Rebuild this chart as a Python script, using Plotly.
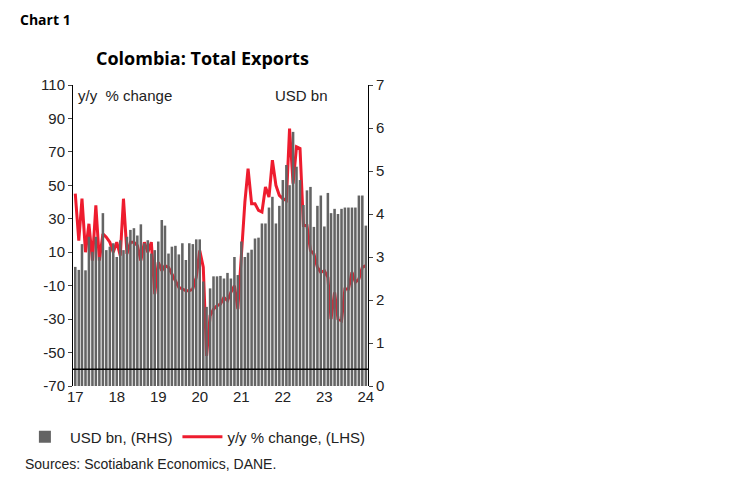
import plotly.graph_objects as go
import pandas as pd

months = pd.date_range("2017-01-01", "2024-01-01", freq="MS")
usd_bn = [2.77,2.70,3.30,2.69,3.47,3.12,3.47,3.00,4.02,3.16,3.24,3.32,
          3.00,3.39,3.16,3.47,3.63,3.67,3.50,3.76,3.32,3.39,3.08,3.16,
          3.36,3.86,3.73,3.08,3.24,3.26,3.06,3.32,2.93,3.32,3.30,3.41,
          3.41,2.43,1.84,2.27,2.55,2.55,2.56,2.50,2.63,2.50,3.00,2.58,
          3.36,3.00,3.10,3.17,3.43,3.45,3.78,3.78,4.15,4.40,3.78,4.19,
          4.79,5.14,4.67,5.91,5.10,4.79,4.21,4.55,4.63,3.70,4.19,4.43,
          3.71,4.49,4.02,4.12,4.00,4.12,4.15,4.15,4.15,4.15,4.43,4.43,
          3.73]
yoy = [45,17,42,10,27,5,38,5,21,19,16,10,
       16,8,42,9,16,16,14,5,16,10,16,-15,
       4,-1,2,1,-3,-7,-11,-12,-13,-13,-12,-5,
       11,1,-52,-28,-24,-22,-21,-17,-19,-14,-10,-24,
       10,40,60,39,39,35,34,49,43,65,50,44,
       42,41,84,51,73,72,26,26,11,9,1,-2,
       -1,-5,-30,-14,-30,-31,-12,-12,-2,-8,-6,1,
       2]
year_ticks = ["17","18","19","20","21","22","23","24"]
tick_dates = [f"20{y}-01-01" for y in year_ticks]
left_ticks = list(range(-70, 111, 20))

fig = go.Figure()
fig.add_trace(go.Bar(x=months, y=usd_bn, yaxis="y2", name="USD bn, (RHS)",
                     marker=dict(color="#646464", line=dict(width=0))))
fig.add_trace(go.Scatter(x=months, y=yoy, mode="lines", name="y/y % change, (LHS)",
                         line=dict(color="#ee1c2e", width=3)))
fig.add_shape(type="line", xref="paper", x0=0, x1=1, yref="y", y0=-60, y1=-60,
              line=dict(color="black", width=1.5))
fig.update_layout(
    width=740, height=475, margin=dict(l=57, r=380, t=77, b=97),
    plot_bgcolor="white", paper_bgcolor="white", bargap=0.2,
    font=dict(family="Liberation Sans, Arial", size=15, color="#222"),
    xaxis=dict(range=["2016-12-12", "2024-01-20"], tickvals=tick_dates, ticktext=year_ticks,
               showgrid=False, showline=False, ticks="", tickfont=dict(size=15), automargin=False),
    yaxis=dict(range=[-70, 110], tickvals=left_ticks, ticktext=[str(v) for v in left_ticks],
               showgrid=False, automargin=False,
               showline=True, linecolor="black", ticks="outside", ticklen=4, zeroline=False),
    yaxis2=dict(range=[0, 7], dtick=1, overlaying="y", side="right", showgrid=False, automargin=False,
                showline=True, linecolor="black", ticks="outside", ticklen=4, zeroline=False),
    legend=dict(orientation="h", x=-0.18, y=-0.115, xanchor="left", yanchor="top",
                font=dict(size=15), traceorder="normal", itemwidth=40),
    showlegend=True,
)
fig.add_annotation(text="<b>Chart 1</b>", xref="paper", yref="paper", x=-0.186, y=1.255,
                   xanchor="left", yanchor="top", showarrow=False,
                   font=dict(family="Open Sans", size=14, color="black"))
fig.add_annotation(text="<b>Colombia: Total Exports</b>", xref="paper", yref="paper", x=0.44, y=1.09,
                   xanchor="center", yanchor="middle", showarrow=False,
                   font=dict(family="Open Sans", size=18, color="black"))
fig.add_annotation(text="y/y  % change", xref="paper", yref="paper", x=0.01, y=1.0,
                   xanchor="left", yanchor="top", showarrow=False, font=dict(size=15))
fig.add_annotation(text="USD bn", xref="paper", yref="paper", x=0.87, y=1.0,
                   xanchor="right", yanchor="top", showarrow=False, font=dict(size=15))
fig.add_annotation(text="Sources: Scotiabank Economics, DANE.", xref="paper", yref="paper",
                   x=-0.17, y=-0.26, xanchor="left", yanchor="middle", showarrow=False,
                   font=dict(size=14))
fig.write_html("out.html")
